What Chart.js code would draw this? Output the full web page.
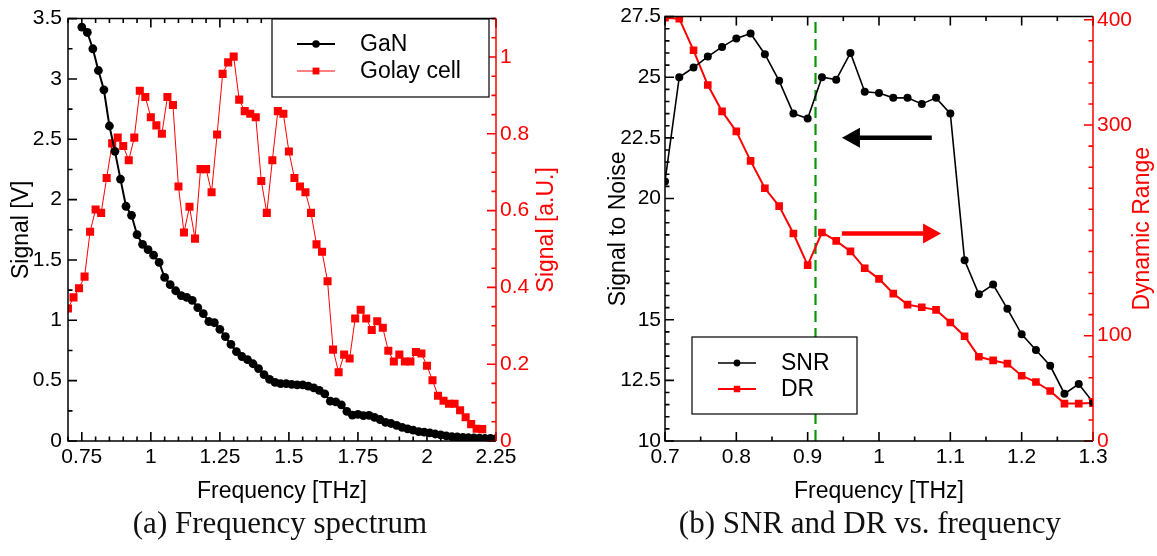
<!DOCTYPE html>
<html>
<head>
<meta charset="utf-8">
<title>GaN detector: spectrum, SNR and DR</title>
<script src="https://cdn.jsdelivr.net/npm/chart.js@4.4.1/dist/chart.umd.min.js"></script>
<style>
  body { margin: 0; background: #fff; }
  #wrap { position: relative; width: 1157px; height: 556px; overflow: hidden; }
  canvas { position: absolute; top: 0; }
  #spectrum { left: 0; }
  #snr { left: 580px; }
  .caption { position: absolute; top: 507px; width: 600px; text-align: center;
             font-family: "Liberation Serif", "Times New Roman", serif; font-size: 31px;
             line-height: 31px; color: #111; }
</style>
</head>
<body>
<div id="wrap">
  <canvas id="spectrum" width="580" height="556"></canvas>
  <canvas id="snr" width="577" height="556"></canvas>
  <div class="caption" style="left:-20px">(a) Frequency spectrum</div>
  <div class="caption" style="left:570px">(b) SNR and DR vs. frequency</div>
</div>
<script>
// ---- (a) frequency spectrum: GaN detector and Golay cell ----
const ganFreq = [
  0.75, 0.77, 0.79, 0.81, 0.83, 0.85, 0.87, 0.89, 0.91, 0.93,
  0.95, 0.97, 0.99, 1.01, 1.03, 1.05, 1.07, 1.09, 1.11, 1.13,
  1.15, 1.17, 1.19, 1.21, 1.23, 1.25, 1.27, 1.29, 1.31, 1.33,
  1.35, 1.37, 1.39, 1.41, 1.43, 1.45, 1.47, 1.49, 1.51, 1.53,
  1.55, 1.57, 1.59, 1.61, 1.63, 1.65, 1.67, 1.69, 1.71, 1.73,
  1.75, 1.77, 1.79, 1.81, 1.83, 1.85, 1.87, 1.89, 1.91, 1.93,
  1.95, 1.97, 1.99, 2.01, 2.03, 2.05, 2.07, 2.09, 2.11, 2.13,
  2.15, 2.17, 2.19, 2.21, 2.23, 2.25
];
const ganSignal = [
  3.43, 3.385, 3.25, 3.07, 2.91, 2.61, 2.40, 2.17, 1.945, 1.87,
  1.71, 1.63, 1.585, 1.54, 1.48, 1.355, 1.295, 1.245, 1.205, 1.19,
  1.165, 1.105, 1.055, 0.99, 0.98, 0.925, 0.865, 0.80, 0.74, 0.70,
  0.675, 0.64, 0.60, 0.55, 0.51, 0.485, 0.475, 0.475, 0.47, 0.465,
  0.465, 0.455, 0.44, 0.42, 0.39, 0.33, 0.325, 0.30, 0.245, 0.215,
  0.22, 0.21, 0.212, 0.195, 0.178, 0.155, 0.145, 0.13, 0.113, 0.10,
  0.09, 0.078, 0.074, 0.068, 0.058, 0.05, 0.042, 0.036, 0.033, 0.03,
  0.027, 0.026, 0.024, 0.022, 0.021, 0.02
];
const golayFreq = [
  0.70, 0.72, 0.74, 0.76, 0.78, 0.80, 0.82, 0.84, 0.86, 0.88,
  0.90, 0.92, 0.94, 0.96, 0.98, 1.00, 1.02, 1.04, 1.06, 1.08,
  1.10, 1.12, 1.14, 1.16, 1.18, 1.20, 1.22, 1.24, 1.26, 1.28,
  1.30, 1.32, 1.34, 1.36, 1.38, 1.40, 1.42, 1.44, 1.46, 1.48,
  1.50, 1.52, 1.54, 1.56, 1.58, 1.60, 1.62, 1.64, 1.66, 1.68,
  1.70, 1.72, 1.74, 1.76, 1.78, 1.80, 1.82, 1.84, 1.86, 1.88,
  1.90, 1.92, 1.94, 1.96, 1.98, 2.00, 2.02, 2.04, 2.06, 2.08,
  2.10, 2.12, 2.14, 2.16, 2.18, 2.20
];
const golaySignal = [
  0.345, 0.374, 0.398, 0.428, 0.545, 0.603, 0.594, 0.685, 0.775, 0.79,
  0.768, 0.731, 0.79, 0.912, 0.896, 0.843, 0.822, 0.80, 0.896, 0.875,
  0.663, 0.543, 0.61, 0.527, 0.708, 0.708, 0.648, 0.798, 0.956, 0.986,
  1.001, 0.889, 0.859, 0.852, 0.843, 0.677, 0.594, 0.731, 0.859, 0.852,
  0.754, 0.685, 0.663, 0.648, 0.594, 0.512, 0.493, 0.416, 0.238, 0.179,
  0.225, 0.215, 0.319, 0.342, 0.319, 0.289, 0.312, 0.295, 0.235, 0.207,
  0.225, 0.207, 0.207, 0.232, 0.228, 0.196, 0.158, 0.118, 0.105, 0.097,
  0.097, 0.080, 0.062, 0.044, 0.032, 0.031
];
const signalTicks = [0, 0.5, 1, 1.5, 2, 2.5, 3, 3.5];
const golayTicks = [0, 0.2, 0.4, 0.6, 0.8, 1];
const spectrumFreqTicks = [0.75, 1, 1.25, 1.5, 1.75, 2, 2.25];

// ---- (b) signal to noise and dynamic range ----
const snrFreq = [
  0.70, 0.72, 0.74, 0.76, 0.78, 0.80, 0.82, 0.84, 0.86, 0.88, 0.90,
  0.92, 0.94, 0.96, 0.98, 1.00, 1.02, 1.04, 1.06, 1.08, 1.10,
  1.12, 1.14, 1.16, 1.18, 1.20, 1.22, 1.24, 1.26, 1.28, 1.30
];
const snrValues = [
  20.7, 25.0, 25.4, 25.85, 26.25, 26.6, 26.8, 25.95, 24.85, 23.5, 23.3,
  25.0, 24.9, 26.0, 24.4, 24.35, 24.15, 24.15, 23.9, 24.15, 23.5,
  17.45, 16.05, 16.45, 15.45, 14.4, 13.75, 13.1, 11.95, 12.35, 11.6
];
const drValues = [
  402, 401, 371, 338, 313, 294, 266, 240, 223, 197, 167,
  198, 190, 180, 164, 154, 140, 129.5, 127, 124.5, 112.5,
  99.5, 80, 76.5, 73.5, 62, 56, 47.5, 35.5, 35.5, 36
];
const snrTicks = [10, 12.5, 15, 20, 22.5, 25, 27.5];
const drTicks = [0, 100, 300, 400];
const snrFreqTicks = [0.7, 0.8, 0.9, 1, 1.1, 1.2, 1.3];
const markerFreq = 0.911;   // dashed line

const RED = '#ff0000';
Chart.defaults.font.family = '"Liberation Sans", Arial, sans-serif';
Chart.defaults.color = '#000';

function pts(xs, ys) {
  return xs.map((x, i) => ({ x: x, y: ys[i] }));
}

function axis(pos, min, max, list, color, pad, size) {
  const horizontal = pos === 'bottom';
  return {
    type: 'linear', position: pos, min: min, max: max,
    grid: { display: false, drawTicks: false },
    border: { display: false },
    ticks: { color: color, padding: pad, autoSkip: false, maxRotation: 0,
             font: { size: 21 }, callback: v => String(v) },
    afterBuildTicks: s => { s.ticks = list.map(v => ({ value: v })); },
    afterFit: s => { if (horizontal) s.height = size; else s.width = size; }
  };
}

// box, inward ticks (major + minor), axis titles, dashed marker and arrows
const frame = {
  id: 'frame',
  beforeDatasetsDraw(chart, args, o) {
    if (o.marker == null) return;
    const { ctx, chartArea: a } = chart;
    const x = chart.scales.x.getPixelForValue(o.marker);
    ctx.save();
    ctx.strokeStyle = '#0a960a';
    ctx.lineWidth = 2.2;
    ctx.setLineDash([11, 6]);
    ctx.beginPath();
    ctx.moveTo(x, a.bottom);
    ctx.lineTo(x, a.top);
    ctx.stroke();
    ctx.restore();
  },
  afterDatasetsDraw(chart, args, o) {
    const { ctx, chartArea: a, scales } = chart;
    ctx.save();
    ctx.lineWidth = 1.6;

    const values = (s, step) => {
      const out = [];
      for (let k = Math.ceil(s.min / step - 1e-6); k * step <= s.max + 1e-6; k++) out.push(k * step);
      return out;
    };
    const draw = (s, step, color, fn) => {
      ctx.strokeStyle = color;
      ctx.beginPath();
      values(s, step).forEach(v => fn(s.getPixelForValue(v), 4.5));
      s.ticks.forEach(t => fn(s.getPixelForValue(t.value), 9));
      ctx.stroke();
    };
    draw(scales.x, o.minor.x, '#000', (p, l) => {
      ctx.moveTo(p, a.bottom); ctx.lineTo(p, a.bottom - l);
      ctx.moveTo(p, a.top); ctx.lineTo(p, a.top + l);
    });
    draw(scales.y, o.minor.y, '#000', (p, l) => {
      ctx.moveTo(a.left, p); ctx.lineTo(a.left + l, p);
    });
    draw(scales.y1, o.minor.y1, RED, (p, l) => {
      ctx.moveTo(a.right, p); ctx.lineTo(a.right - l, p);
    });

    ctx.lineWidth = 1.5;
    ctx.strokeStyle = '#000';
    ctx.beginPath();
    ctx.moveTo(a.right, a.top); ctx.lineTo(a.left, a.top);
    ctx.lineTo(a.left, a.bottom); ctx.lineTo(a.right, a.bottom);
    ctx.stroke();
    ctx.strokeStyle = RED;
    ctx.beginPath();
    ctx.moveTo(a.right, a.top); ctx.lineTo(a.right, a.bottom);
    ctx.stroke();

    // titles
    ctx.font = '23px "Liberation Sans", Arial, sans-serif';
    ctx.textBaseline = 'alphabetic';
    ctx.textAlign = 'center';
    ctx.fillStyle = '#000';
    ctx.fillText(o.titles.x, (a.left + a.right) / 2, 498);
    const midY = (a.top + a.bottom) / 2;
    [[o.titles.y, o.titles.yAt, '#000'], [o.titles.y1, o.titles.y1At, RED]].forEach(t => {
      ctx.save();
      ctx.translate(t[1], midY);
      ctx.rotate(-Math.PI / 2);
      ctx.fillStyle = t[2];
      ctx.fillText(t[0], 0, 0);
      ctx.restore();
    });

    // arrows pointing at the axis each curve belongs to
    (o.arrows || []).forEach(ar => {
      const ys = scales[ar.axis];
      const y = ys.getPixelForValue(ar.value);
      const x0 = scales.x.getPixelForValue(ar.tail);
      const x1 = scales.x.getPixelForValue(ar.tip);
      const dir = Math.sign(x1 - x0);
      const head = 18, half = 10;
      ctx.strokeStyle = ar.color;
      ctx.fillStyle = ar.color;
      ctx.lineWidth = 4.5;
      ctx.beginPath();
      ctx.moveTo(x0, y);
      ctx.lineTo(x1 - dir * head, y);
      ctx.stroke();
      ctx.beginPath();
      ctx.moveTo(x1, y);
      ctx.lineTo(x1 - dir * head, y - half);
      ctx.lineTo(x1 - dir * head, y + half);
      ctx.closePath();
      ctx.fill();
    });
    ctx.restore();
  },
  afterDraw(chart, args, o) {
    const L = o.legend;
    if (!L) return;
    const ctx = chart.ctx;
    const [x1, y1, x2, y2] = L.box;
    ctx.save();
    ctx.fillStyle = '#fff';
    ctx.fillRect(x1, y1, x2 - x1, y2 - y1);
    ctx.strokeStyle = '#000';
    ctx.lineWidth = 1.2;
    ctx.strokeRect(x1, y1, x2 - x1, y2 - y1);
    ctx.font = '23px "Liberation Sans", Arial, sans-serif';
    ctx.textBaseline = 'middle';
    ctx.textAlign = 'left';
    chart.data.datasets.forEach((ds, i) => {
      const y = L.rows[i];
      ctx.strokeStyle = ds.borderColor;
      ctx.lineWidth = ds.borderWidth;
      ctx.beginPath();
      ctx.moveTo(L.line[0], y);
      ctx.lineTo(L.line[1], y);
      ctx.stroke();
      ctx.fillStyle = ds.pointBackgroundColor;
      Chart.helpers.drawPoint(ctx, { pointStyle: ds.pointStyle, radius: ds.pointRadius * 0.85,
                                     rotation: 0, borderWidth: 0 }, (L.line[0] + L.line[1]) / 2, y);
      ctx.fillStyle = '#000';
      ctx.fillText(ds.label, L.textX, y + 1);
    });
    ctx.restore();
  }
};

function series(label, xs, ys, axisId, color, width, style, radius) {
  return {
    label: label, data: pts(xs, ys), yAxisID: axisId,
    borderColor: color, borderWidth: width, tension: 0, clip: 0,
    pointStyle: style, pointRadius: radius, pointBorderWidth: 0,
    pointBackgroundColor: color, pointHoverRadius: radius
  };
}

const common = {
  responsive: false,
  animation: false,
  events: [],
  layout: { padding: { top: 15, left: 0, right: 0, bottom: 0 } },
  plugins: { legend: { display: false }, tooltip: { enabled: false } }
};

new Chart(document.getElementById('spectrum'), {
  type: 'line',
  data: {
    datasets: [
      series('GaN', ganFreq, ganSignal, 'y', '#000', 2, 'circle', 4.4),
      series('Golay cell', golayFreq, golaySignal, 'y1', RED, 1, 'rect', 5.7)
    ]
  },
  options: Object.assign({}, common, {
    scales: {
      x: axis('bottom', 0.7, 2.25, spectrumFreqTicks, '#000', 4, 115),
      y: axis('left', 0, 3.5, signalTicks, '#000', 6, 68),
      y1: axis('right', 0, 1.1, golayTicks, RED, 4, 84)
    },
    plugins: Object.assign({}, common.plugins, {
      frame: {
        minor: { x: 0.05, y: 0.25, y1: 0.05 },
        titles: { x: 'Frequency [THz]', y: 'Signal [V]', yAt: 28, y1: 'Signal [a.U.]', y1At: 553 },
        legend: { box: [272, 19, 489, 97], rows: [44, 71], line: [297, 335], textX: 360 }
      }
    })
  }),
  plugins: [frame]
});

new Chart(document.getElementById('snr'), {
  type: 'line',
  data: {
    datasets: [
      series('SNR', snrFreq, snrValues, 'y', '#000', 1.6, 'circle', 4),
      series('DR', snrFreq, drValues, 'y1', RED, 2, 'rect', 5.4)
    ]
  },
  options: Object.assign({}, common, {
    scales: {
      x: axis('bottom', 0.7, 1.3, snrFreqTicks, '#000', 4, 115),
      y: axis('left', 10, 27.5, snrTicks, '#000', 4, 85),
      y1: axis('right', 0, 403, drTicks, RED, 4, 64)
    },
    plugins: Object.assign({}, common.plugins, {
      frame: {
        minor: { x: 0.05, y: 0.5, y1: 20 },
        marker: markerFreq,
        titles: { x: 'Frequency [THz]', y: 'Signal to Noise', yAt: 45, y1: 'Dynamic Range', y1At: 569 },
        legend: { box: [112, 337, 277, 414], rows: [363, 389], line: [138, 176], textX: 201 },
        arrows: [
          { axis: 'y', value: 22.5, tail: 1.074, tip: 0.948, color: '#000' },
          { axis: 'y1', value: 197, tail: 0.948, tip: 1.087, color: RED }
        ]
      }
    })
  }),
  plugins: [frame]
});
</script>
</body>
</html>
